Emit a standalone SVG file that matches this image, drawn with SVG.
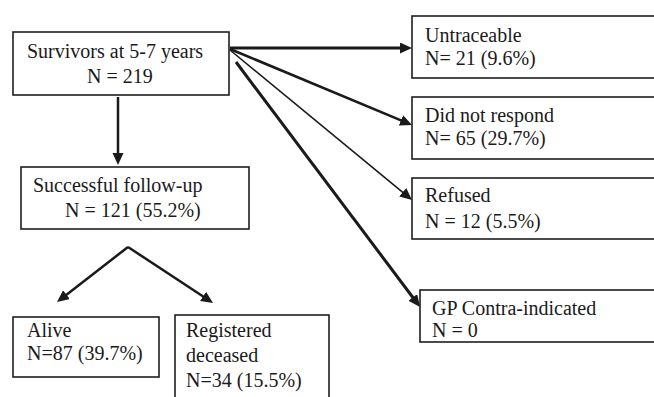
<svg xmlns="http://www.w3.org/2000/svg" width="654" height="397" viewBox="0 0 654 397">
<style>
.box{fill:#fff;stroke:#1e1e1e;stroke-width:1.6}
.t{font-family:"Liberation Serif","Times New Roman",serif;font-size:20px;fill:#1a1a1a}
.c{fill:none;stroke:#1a1a1a;stroke-linecap:butt}
</style>
<defs>
<marker id="ah" markerUnits="userSpaceOnUse" markerWidth="14" markerHeight="12" refX="2" refY="5.5" orient="auto" viewBox="0 0 14 12">
<path d="M0,0 L12,5.5 L0,11 z" fill="#1a1a1a"/>
</marker>
</defs>
<rect width="654" height="397" fill="#fff"/>
<g id="survivors">
<rect class="box" x="13" y="32" width="216" height="63"/>
<text class="t" x="27" y="58">Survivors at 5-7 years</text>
<text class="t" x="87" y="83">N = 219</text>
</g>
<g id="followup">
<rect class="box" x="21" y="167" width="228" height="62"/>
<text class="t" x="33" y="192">Successful follow-up</text>
<text class="t" x="65" y="217">N = 121 (55.2%)</text>
</g>
<g id="alive">
<rect class="box" x="13" y="317" width="146" height="60"/>
<text class="t" x="27" y="337">Alive</text>
<text class="t" x="27" y="360">N=87 (39.7%)</text>
</g>
<g id="deceased">
<rect class="box" x="175" y="315" width="154" height="90"/>
<text class="t" x="186" y="337">Registered</text>
<text class="t" x="186" y="362">deceased</text>
<text class="t" x="186" y="387">N=34 (15.5%)</text>
</g>
<g id="untraceable">
<rect class="box" x="412" y="16" width="260" height="62"/>
<text class="t" x="425" y="42">Untraceable</text>
<text class="t" x="425" y="65">N= 21 (9.6%)</text>
</g>
<g id="norespond">
<rect class="box" x="412" y="97" width="260" height="62"/>
<text class="t" x="425" y="122">Did not respond</text>
<text class="t" x="425" y="145">N= 65 (29.7%)</text>
</g>
<g id="refused">
<rect class="box" x="412" y="178" width="260" height="61"/>
<text class="t" x="425" y="202">Refused</text>
<text class="t" x="425" y="228">N = 12 (5.5%)</text>
</g>
<g id="gp">
<rect class="box" x="420" y="290" width="260" height="52"/>
<text class="t" x="432" y="315">GP Contra-indicated</text>
<text class="t" x="432" y="337">N = 0</text>
</g>
<g id="connectors">
<path class="c" d="M118,97 L118,155" stroke-width="2.5" marker-end="url(#ah)"/>
<path class="c" d="M230,48 L402,48" stroke-width="3.2" marker-end="url(#ah)"/>
<path class="c" d="M230,49 L402.8,121.1" stroke-width="2.6" marker-end="url(#ah)"/>
<path class="c" d="M230,50 L404.3,193.6" stroke-width="1.6" marker-end="url(#ah)"/>
<path class="c" d="M236,62 L414,299" stroke-width="3" marker-end="url(#ah)"/>
<path class="c" d="M128,247 L64.9,295.9" stroke-width="2.5" marker-end="url(#ah)"/>
<path class="c" d="M128,247 L204.7,297.5" stroke-width="2.5" marker-end="url(#ah)"/>
</g>
</svg>
